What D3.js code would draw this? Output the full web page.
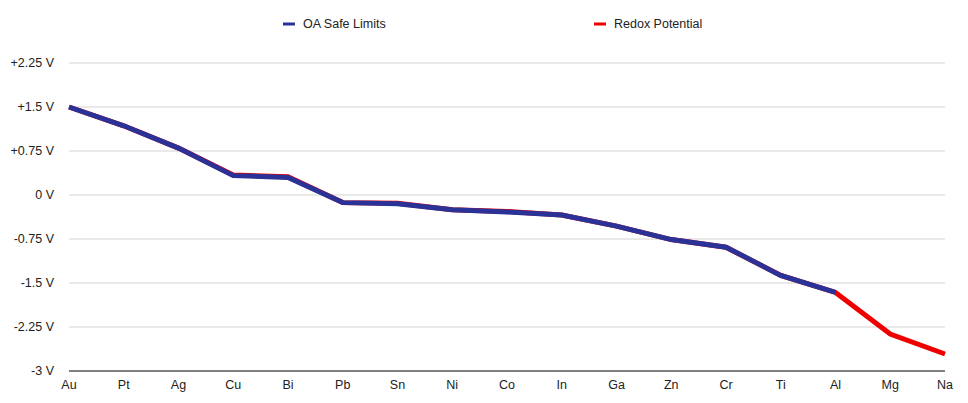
<!DOCTYPE html>
<html>
<head>
<meta charset="utf-8">
<script src="https://cdn.jsdelivr.net/npm/d3@7"></script>
<style>
  body { margin: 0; background: #fff; }
  text { font-family: "Liberation Sans", Arial, sans-serif; }
</style>
</head>
<body>
<div id="chart"></div>
<script>
// Chart data
var metals = ['Au', 'Pt', 'Ag', 'Cu', 'Bi', 'Pb', 'Sn', 'Ni', 'Co', 'In', 'Ga', 'Zn', 'Cr', 'Ti', 'Al', 'Mg', 'Na'];
var redoxPotential = [1.50, 1.18, 0.80, 0.34, 0.31, -0.13, -0.14, -0.25, -0.28, -0.34, -0.53, -0.76, -0.89, -1.37, -1.66, -2.37, -2.71];
var oaSafeLimits = [1.50, 1.18, 0.80, 0.33, 0.30, -0.13, -0.15, -0.25, -0.29, -0.34, -0.53, -0.76, -0.89, -1.37, -1.66, null, null];
var yTicks = [-3, -2.25, -1.5, -0.75, 0, 0.75, 1.5, 2.25];
var yTickLabels = ['-3 V', '-2.25 V', '-1.5 V', '-0.75 V', '0 V', '+0.75 V', '+1.5 V', '+2.25 V'];

var width = 968;
var height = 403;
var margin = { top: 63, right: 23, bottom: 32, left: 69 };

var svg = d3.select('#chart')
  .append('svg')
  .attr('width', width)
  .attr('height', height);

var x = d3.scalePoint()
  .domain(metals)
  .range([margin.left, width - margin.right]);

var y = d3.scaleLinear()
  .domain([-3, 2.25])
  .range([height - margin.bottom, margin.top]);

// Gridlines
svg.selectAll('.grid')
  .data(yTicks.slice(1))
  .enter().append('line')
  .attr('x1', margin.left)
  .attr('x2', width - margin.right)
  .attr('y1', function(d) { return y(d); })
  .attr('y2', function(d) { return y(d); })
  .style('stroke', '#d3d3d3')
  .style('stroke-width', 1);

// Bottom axis line
svg.append('line')
  .attr('x1', margin.left)
  .attr('x2', width - margin.right)
  .attr('y1', y(-3))
  .attr('y2', y(-3))
  .style('stroke', '#000')
  .style('stroke-width', 1);

// Y labels
svg.selectAll('.ylabel')
  .data(yTicks)
  .enter().append('text')
  .attr('x', 54)
  .attr('y', function(d) { return y(d); })
  .attr('dy', '.35em')
  .style('text-anchor', 'end')
  .style('font-size', '12.5px')
  .style('fill', '#222')
  .text(function(d, i) { return yTickLabels[i]; });

// X labels
svg.selectAll('.xlabel')
  .data(metals)
  .enter().append('text')
  .attr('x', function(d) { return x(d); })
  .attr('y', 389)
  .style('text-anchor', 'middle')
  .style('font-size', '12.5px')
  .style('fill', '#222')
  .text(function(d) { return d; });

var line = d3.line()
  .defined(function(d) { return d != null; })
  .x(function(d, i) { return x(metals[i]); })
  .y(function(d) { return y(d); });

// Redox line underneath, safe limits on top
svg.append('path')
  .datum(redoxPotential)
  .attr('d', line)
  .style('fill', 'none')
  .style('stroke', '#ee0000')
  .style('stroke-width', 5);

svg.append('path')
  .datum(oaSafeLimits)
  .attr('d', line)
  .style('fill', 'none')
  .style('stroke', '#2b3297')
  .style('stroke-width', 5);

// Legend
var legendItems = [
  { name: 'OA Safe Limits', color: '#2b3297', x: 283 },
  { name: 'Redox Potential', color: '#ee0000', x: 594 }
];

var legend = svg.selectAll('.legend')
  .data(legendItems)
  .enter().append('g')
  .attr('class', 'legend')
  .attr('transform', function(d) { return 'translate(' + d.x + ',24)'; });

legend.append('rect')
  .attr('x', 0)
  .attr('y', -1.5)
  .attr('width', 12)
  .attr('height', 3)
  .style('fill', function(d) { return d.color; });

legend.append('text')
  .attr('x', 20)
  .attr('y', 0)
  .attr('dy', '.35em')
  .style('font-size', '12.5px')
  .style('fill', '#222')
  .text(function(d) { return d.name; });
</script>
</body>
</html>
